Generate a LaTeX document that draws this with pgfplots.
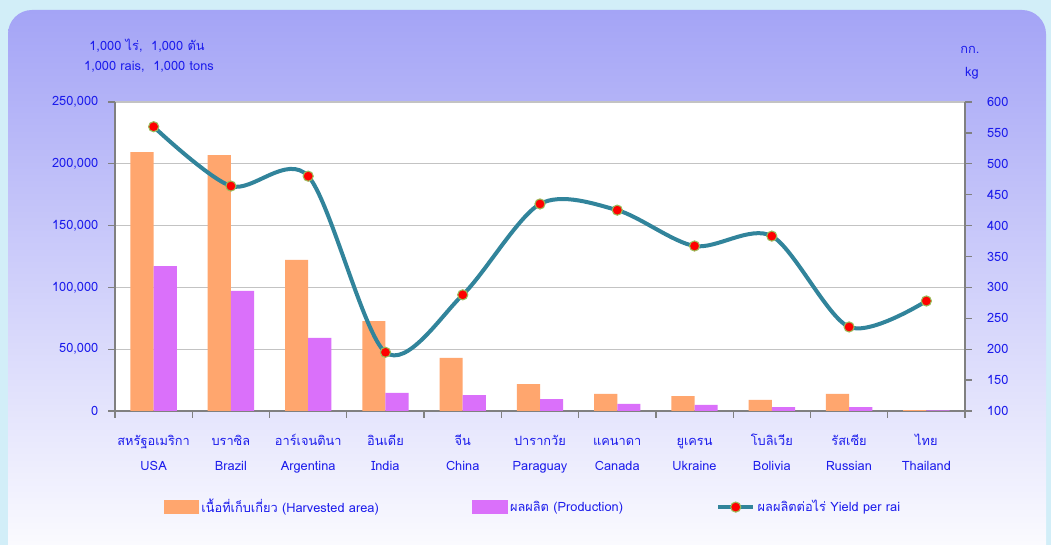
\documentclass[border=0pt]{standalone}
\usepackage{pgfplots}
\pgfplotsset{compat=1.18}
\usepackage{pgfplotstable}
\usepackage{fontspec}
\setmainfont[Script=Thai]{Loma}
\definecolor{txt}{RGB}{28,28,236}
\definecolor{bgout}{RGB}{210,238,248}
\definecolor{bgtop}{RGB}{164,164,246}
\definecolor{bgmid}{RGB}{226,226,252}
\definecolor{barA}{RGB}{255,166,110}
\definecolor{barB}{RGB}{218,112,250}
\definecolor{lineC}{RGB}{49,132,155}
\definecolor{mkEdge}{RGB}{155,187,89}
\definecolor{axgray}{RGB}{128,128,128}
\definecolor{gridgray}{RGB}{195,195,195}
\newcommand\tl[2]{\rule{0pt}{10.5pt}#1\\#2}

\pgfplotstableread{
x area prod yield
0 209500 117300 560
1 207100 97100 464
2 122200 59100 480
3 72800 14600 195
4 42900 12900 288
5 21800 9700 435
6 13800 5700 425
7 12100 4900 367
8 8900 3200 383
9 13800 3200 236
10 800 400 278
}\data

\begin{document}
\begin{tikzpicture}[x=0.75pt,y=0.75pt, font=\fontsize{9.6}{11}\selectfont]
\path[use as bounding box] (0,0) rectangle (1051,545);
\fill[bgout] (0,0) rectangle (1051,545);
\shade[rounded corners=18pt, top color=bgtop, middle color=bgmid, bottom color=white] (8,-30) rectangle (1046,535);
\fill[white] (115,134) rectangle (965,443);

\begin{axis}[
  at={(86.25pt,100.5pt)}, anchor=south west, scale only axis,
  width=637.5pt, height=231.75pt,
  xmin=-0.5, xmax=10.5, ymin=0, ymax=250000,
  ybar=0pt, bar width=0.3,
  axis x line*=bottom, axis y line*=left,
  axis line style={axgray, line width=1.5pt},
  tick align=outside,
  xtick={0,...,10},
  major x tick style={draw=none},
  minor xtick={-0.5,0.5,...,10.5},
  minor x tick style={axgray, line width=1pt},
  minor tick length=5pt,
  xticklabels={{\tl{สหรัฐอเมริกา}{USA}},{\tl{บราซิล}{Brazil}},{\tl{อาร์เจนตินา}{Argentina}},{\tl{อินเดีย}{India}},{\tl{จีน}{China}},{\tl{ปารากวัย}{Paraguay}},{\tl{แคนาดา}{Canada}},{\tl{ยูเครน}{Ukraine}},{\tl{โบลิเวีย}{Bolivia}},{\tl{รัสเซีย}{Russian}},{\tl{ไทย}{Thailand}}},
  xticklabel style={align=center, text=txt, font=\fontsize{9.6}{19}\selectfont, yshift=-6.5pt},
  ytick={0,50000,100000,150000,200000,250000},
  yticklabels={0,{50,000},{100,000},{150,000},{200,000},{250,000}},
  scaled y ticks=false,
  y tick style={axgray, line width=1pt},
  major tick length=5pt,
  yticklabel style={text=txt, xshift=-4pt},
  ymajorgrids, grid style={gridgray, line width=0.8pt},
]
\addplot[fill=barA, draw=none] table[x=x, y=area] {\data};
\addplot[fill=barB, draw=none] table[x=x, y=prod] {\data};
\end{axis}

\begin{axis}[
  at={(86.25pt,100.5pt)}, anchor=south west, scale only axis,
  width=637.5pt, height=231.75pt,
  xmin=-0.5, xmax=10.5, ymin=100, ymax=600,
  axis x line=none, axis y line*=right,
  axis line style={axgray, line width=1.5pt},
  tick align=outside,
  ytick={100,150,200,250,300,350,400,450,500,550,600},
  yticklabels={100,150,200,250,300,350,400,450,500,550,600},
  y tick style={axgray, line width=1pt},
  major tick length=5pt,
  yticklabel style={text=txt, xshift=8pt},
  legend columns=3,
  legend style={at={(0.492,-0.311)}, anchor=center, draw=none, fill=none,
    font=\fontsize{9.6}{11}\selectfont, text=txt,
    /tikz/every even column/.append style={column sep=68pt}},
]
\addlegendimage{legend image code/.code={\fill[barA] (0pt,-5pt) rectangle (26pt,5pt);}}
\addlegendentry{เนื้อที่เก็บเกี่ยว  (Harvested area)}
\addlegendimage{legend image code/.code={\fill[barB] (0pt,-5pt) rectangle (26pt,5pt);}}
\addlegendentry{ผลผลิต  (Production)}
\addplot[lineC, line width=3pt, smooth, tension=0.5, mark=*,
  mark options={fill=red, draw=mkEdge, line width=0.8pt, scale=1.9},
  legend image code/.code={\draw[lineC, line width=3pt] (0pt,0pt) -- (26pt,0pt);
     \fill[red, draw=mkEdge, line width=0.8pt] (13pt,0pt) circle (3.8pt);}]
  table[x=x, y=yield] {\data};
\addlegendentry{ผลผลิตต่อไร่ Yield per rai}
\end{axis}

\node[text=txt] at (147,499) {1,000 ไร่,~~1,000 ตัน};
\node[text=txt] at (149,478) {1,000 rais,~~1,000 tons};
\node[text=txt] at (970,495) {กก.};
\node[text=txt] at (972,472) {kg};
\end{tikzpicture}
\end{document}
